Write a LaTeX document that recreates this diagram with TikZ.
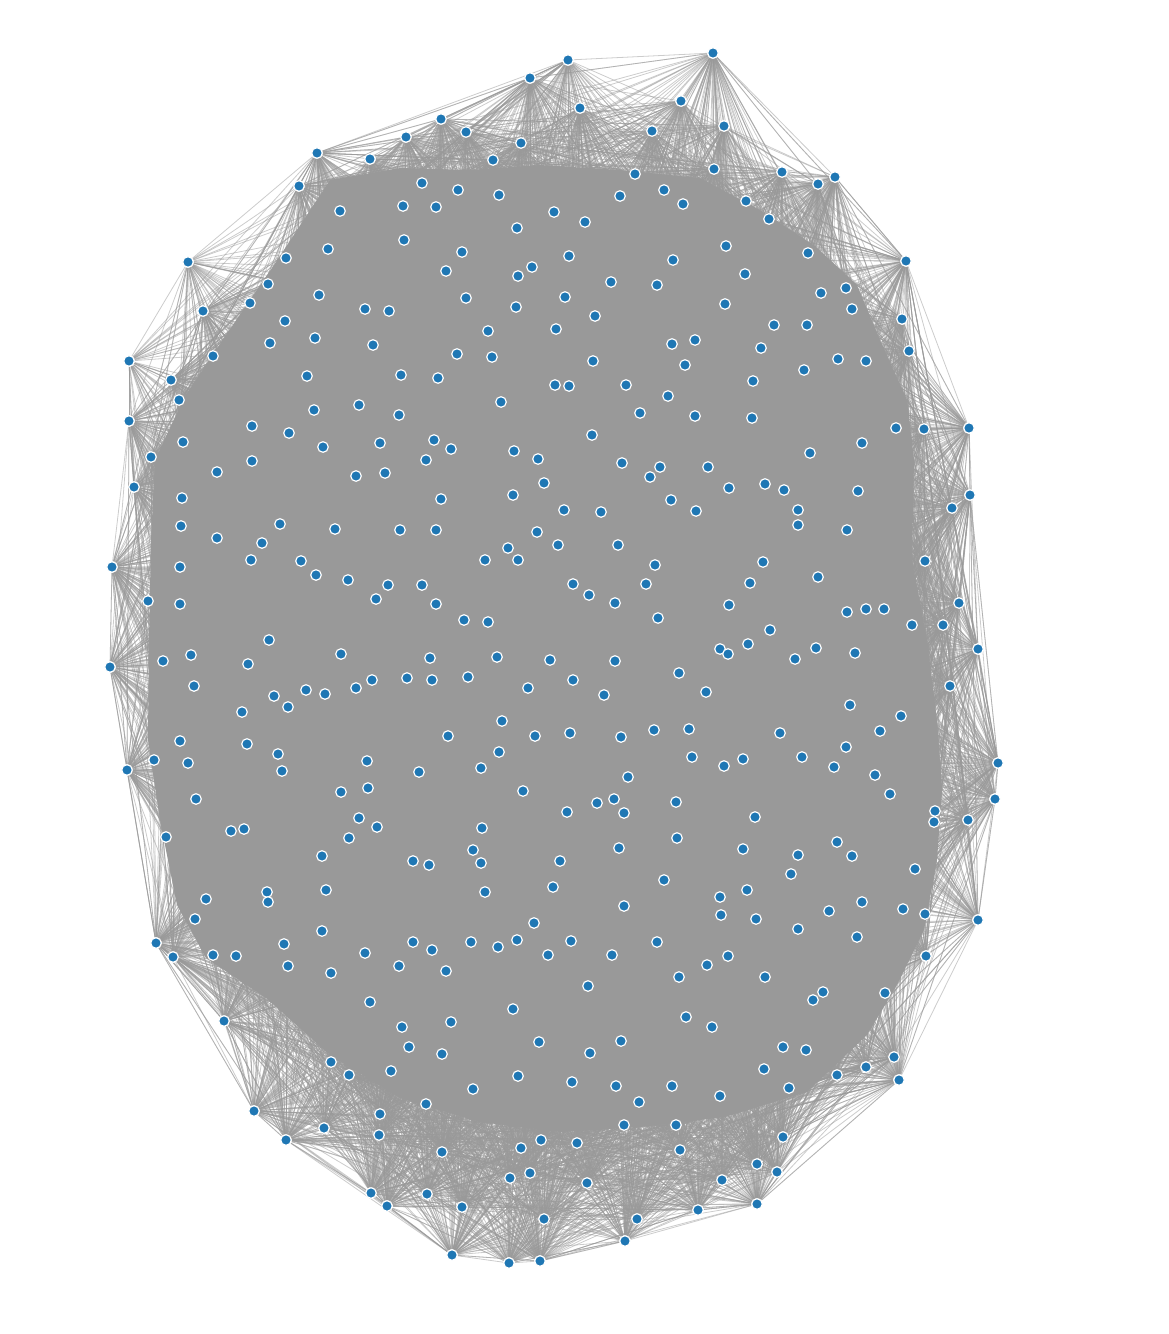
\documentclass[tikz,border=0pt]{standalone}
\usepackage{tikz}
\definecolor{nodeblue}{HTML}{1F77B4}
\definecolor{edgegray}{HTML}{999999}
\pgfdeclarelayer{edgelayer}
\pgfdeclarelayer{solidlayer}
\pgfsetlayers{edgelayer,solidlayer,main}
\tikzset{
  dot/.style={circle,fill=nodeblue,draw=white,line width=1.2pt,inner sep=0pt,minimum size=10.6pt},
  edge/.style={draw=edgegray,opacity=0.5,line width=0.8pt},
  solid/.style={fill=edgegray,draw=none}
}
\def\allnodes{%
713/53/50, 835/177/75, 906/261/75, 969/428/75, 970/495/65, 978/649/65, 998/763/75, 995/799/65, 978/920/45, 899/1080/60, 757/1204/65, 698/1210/65, 625/1241/50, 540/1261/60, 509/1263/60, 452/1255/65, 387/1206/60, 371/1193/60, 286/1140/65, 254/1111/65, 224/1021/60, 156/943/75, 127/770/75, 110/667/75, 112/567/75, 134/487/60, 129/421/65, 129/361/8, 188/262/16, 317/153/65, 406/137/65, 441/119/65, 530/78/75, 568/60/35,
681/101/60, 580/108/60, 724/126/60, 466/132/60, 521/143/60, 652/131/60, 370/159/60, 493/160/60, 714/169/60, 635/174/60, 782/172/60, 818/184/60, 299/186/60, 422/183/60, 746/201/60, 769/219/60, 808/253/60, 286/258/60, 268/284/60, 250/303/60, 846/288/60, 203/311/60, 852/309/60, 902/319/60, 213/356/60, 909/351/60, 171/380/60, 179/400/60, 896/428/60, 924/429/60, 151/457/60, 952/508/60, 925/561/60, 148/601/60, 959/603/60, 912/625/60, 943/625/60, 163/661/60, 950/686/60, 154/760/60, 935/811/60, 934/822/60, 968/820/60, 166/837/60, 925/914/60, 173/957/60, 213/955/60, 926/956/60, 885/993/60, 894/1057/60, 866/1067/60, 837/1075/60, 789/1088/60, 331/1062/60, 349/1075/60, 324/1128/60, 380/1114/60, 379/1135/60, 426/1104/60, 624/1125/60, 676/1125/60, 541/1140/60, 577/1143/60, 521/1148/60, 783/1137/60, 442/1152/60, 680/1150/60, 530/1173/60, 510/1178/60, 757/1164/60, 777/1172/60, 587/1183/60, 722/1180/60, 427/1194/60, 462/1207/60, 544/1219/60, 637/1219/60,
458/190/0, 499/195/0, 664/190/0, 620/196/0, 683/204/0, 340/211/0, 403/206/0, 436/207/0, 554/212/0, 585/222/0, 517/228/0, 404/240/0, 726/246/0, 328/249/0, 462/252/0, 569/256/0, 673/260/0, 446/271/0, 518/276/0, 532/267/0, 745/274/0, 611/282/0, 657/285/0, 319/295/0, 466/298/0, 565/297/0, 821/293/0, 365/309/0, 389/311/0, 516/307/0, 725/304/0, 285/321/0, 595/316/0, 774/325/0, 807/325/0, 556/329/0, 488/331/0, 270/343/0, 315/338/0, 373/345/0, 672/344/0, 695/340/0, 457/354/0, 492/357/0, 593/361/0, 761/348/0, 838/359/0, 866/361/0, 685/365/0, 804/370/0, 307/376/0, 401/375/0, 438/378/0, 753/381/0, 555/385/0, 569/386/0, 626/385/0, 668/396/0, 501/402/0, 359/405/0, 314/410/0, 399/415/0, 640/413/0, 695/416/0, 752/418/0, 252/426/0, 289/433/0, 434/440/0, 380/443/0, 451/449/0, 592/435/0, 862/443/0, 183/442/0, 323/447/0, 514/451/0, 538/459/0, 252/461/0, 426/460/0, 622/463/0, 660/467/0, 708/467/0, 810/453/0, 650/477/0, 217/472/0, 356/476/0, 385/473/0, 544/483/0, 441/499/0, 513/495/0, 671/500/0, 729/488/0, 765/484/0, 784/490/0, 858/491/0, 182/498/0, 564/510/0, 601/512/0, 696/511/0, 798/510/0, 280/524/0, 181/526/0, 335/529/0, 400/530/0, 436/530/0, 537/532/0, 798/525/0, 847/530/0, 217/538/0, 262/543/0, 508/548/0, 558/545/0, 618/545/0, 251/560/0, 301/561/0, 485/560/0, 518/560/0, 655/565/0, 763/562/0, 180/567/0, 316/575/0, 348/580/0, 388/585/0, 422/585/0, 573/584/0, 589/595/0, 646/584/0, 750/583/0, 818/577/0, 180/604/0, 376/599/0, 436/604/0, 615/603/0, 729/605/0, 847/612/0, 866/609/0, 884/609/0, 464/620/0, 488/622/0, 658/618/0, 770/630/0, 269/640/0, 191/655/0, 248/664/0, 341/654/0, 430/658/0, 497/657/0, 550/660/0, 615/661/0, 720/649/0, 728/654/0, 748/644/0, 795/659/0, 816/648/0, 855/653/0, 194/686/0, 306/690/0, 325/694/0, 356/688/0, 372/680/0, 407/678/0, 432/680/0, 468/677/0, 528/688/0, 573/680/0, 604/695/0, 679/673/0, 706/692/0, 274/696/0, 288/707/0, 242/712/0, 850/705/0, 901/716/0, 880/731/0, 502/721/0, 448/736/0, 535/736/0, 570/733/0, 621/737/0, 654/730/0, 689/729/0, 180/741/0, 247/744/0, 278/754/0, 188/763/0, 367/761/0, 499/752/0, 481/768/0, 692/757/0, 724/766/0, 743/759/0, 780/733/0, 846/747/0, 802/757/0, 834/767/0, 282/771/0, 419/772/0, 628/777/0, 875/775/0, 890/794/0, 196/799/0, 341/792/0, 368/788/0, 523/791/0, 597/803/0, 614/799/0, 676/802/0, 755/817/0, 359/818/0, 377/827/0, 482/828/0, 567/812/0, 624/813/0, 231/831/0, 244/829/0, 349/838/0, 677/838/0, 837/842/0, 473/850/0, 619/848/0, 743/849/0, 852/856/0, 798/855/0, 322/856/0, 413/861/0, 429/865/0, 481/863/0, 560/861/0, 915/869/0, 791/874/0, 664/880/0, 326/890/0, 267/892/0, 268/902/0, 485/892/0, 553/887/0, 720/897/0, 747/890/0, 206/899/0, 862/902/0, 903/909/0, 195/919/0, 624/906/0, 721/915/0, 756/919/0, 829/911/0, 322/931/0, 534/923/0, 798/929/0, 857/937/0, 284/944/0, 413/942/0, 471/942/0, 498/947/0, 517/940/0, 571/941/0, 657/942/0, 236/956/0, 365/953/0, 432/950/0, 548/955/0, 612/955/0, 728/956/0, 288/966/0, 331/973/0, 399/966/0, 446/971/0, 707/965/0, 765/977/0, 679/977/0, 588/986/0, 823/992/0, 813/1000/0, 370/1002/0, 513/1009/0, 402/1027/0, 451/1022/0, 686/1017/0, 712/1027/0, 539/1042/0, 621/1041/0, 409/1047/0, 442/1054/0, 590/1053/0, 783/1047/0, 806/1050/0, 391/1071/0, 518/1076/0, 764/1069/0, 473/1089/0, 572/1082/0, 616/1086/0, 672/1086/0, 720/1096/0, 639/1102/0}
\def\M{111}
\begin{document}
\begin{tikzpicture}[x=1pt,y=-1pt]
\useasboundingbox (0,0) rectangle (1168,1334);
% nodes
\foreach \x/\y/\d [count=\i] in \allnodes {
  \node[dot] (v\i) at (\x,\y) {};
  \xdef\N{\i}
}
% dense solid core
\begin{pgfonlayer}{solidlayer}
\path[solid] (330,180) -- (400,168) -- (470,170) -- (540,165) -- (620,170) -- (700,178) -- (760,210) -- (815,246) -- (857,285) -- (880,340) -- (907,400) -- (914,460) -- (912,560) -- (927,640) -- (937,720) -- (942,790) -- (937,860) -- (924,930) -- (897,985) -- (867,1035) -- (807,1092) -- (725,1117) -- (640,1127) -- (560,1132) -- (480,1122) -- (400,1098) -- (330,1055) -- (266,998) -- (206,958) -- (177,905) -- (160,820) -- (148,740) -- (149,640) -- (151,540) -- (155,460) -- (185,396) -- (228,332) -- (276,262) -- cycle;
\end{pgfonlayer}
% edges
\begin{pgfonlayer}{edgelayer}
\foreach \x/\y/\d [count=\k] in \allnodes {
  \ifnum\d>0
    \foreach \m in {1,...,\d} {
      \ifodd\m
        \pgfmathtruncatemacro\j{mod(\k*61+\m*37,\N)+1}
      \else
        \pgfmathtruncatemacro\j{mod(\k*29+\m*17,\M)+1}
      \fi
      \ifnum\j=\k\else \draw[edge] (v\k) -- (v\j); \fi
    }
  \fi
}
\foreach \k in {1,...,34} {
  \pgfmathtruncatemacro\a{mod(\k,34)+1}
  \pgfmathtruncatemacro\b{mod(\k+1,34)+1}
  \draw[edge] (v\k) -- (v\a);
  \draw[edge] (v\k) -- (v\b);
}
\end{pgfonlayer}
\end{tikzpicture}
\end{document}
